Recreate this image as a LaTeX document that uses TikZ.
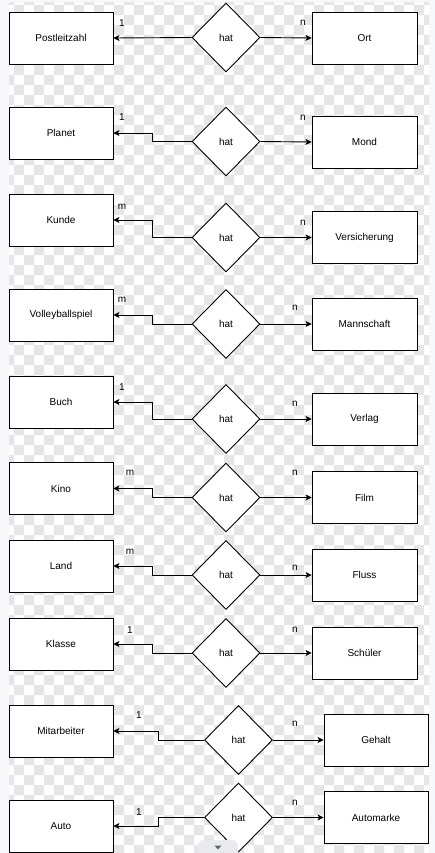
\documentclass[tikz,border=0pt]{standalone}
\usepackage{fontspec}
\setmainfont{Liberation Sans}
\usetikzlibrary{arrows.meta,shapes.geometric}
\definecolor{checkgray}{HTML}{E6E6E6}
\definecolor{strip}{HTML}{F6F8FB}
\definecolor{tabgray}{HTML}{E8EAEE}
\tikzset{
  entity/.style={draw=black, line width=0.9pt, fill=white, minimum width=104pt, minimum height=52pt, inner sep=0pt, font=\fontsize{10}{12}\selectfont},
  relation/.style={diamond, draw=black, line width=0.9pt, fill=white, minimum width=68pt, minimum height=69pt, inner sep=0pt, font=\fontsize{10}{12}\selectfont},
  card/.style={inner sep=0pt, font=\fontsize{10}{12}\selectfont},
  arr/.style={line width=0.9pt, -{Stealth[length=6pt,width=6pt,inset=1.5pt]}},
}
\begin{document}
\begin{tikzpicture}[x=1pt,y=-1pt]
\useasboundingbox (0,0) rectangle (435,853);
% background
\fill[strip] (0,0) rectangle (435,853);
\fill[white] (9,3) rectangle (429,853);
\begin{scope}
\clip (9,3) rectangle (429,853);
\fill[checkgray]
  \foreach \a in {0,...,21}{ \foreach \b in {0,...,42}{
    (14+20*\a,5+20*\b) rectangle ++(10,10)
    (4+20*\a,-5+20*\b) rectangle ++(10,10)
  }};
\end{scope}

% row 1
\node[entity] (L1) at (61,38) {Postleitzahl};
\node[relation] (D1) at (226,37.5) {hat};
\node[entity, minimum width=105pt] (R1) at (364.5,38) {Ort};
\draw[arr] (D1.west) -- (L1.east);
\draw[arr] (D1.east) -- (R1.west);
\node[card] (c1a) at (122,23) {1};
\node[card] (c1b) at (303,23) {n};

% row 2
\node[entity] (L2) at (61,133) {Planet};
\node[relation] (D2) at (226,141.5) {hat};
\node[entity, minimum width=105pt] (R2) at (364.5,142) {Mond};
\draw[arr] (D2.west) -- ++(-39,0) |- (L2.east);
\draw[arr] (D2.east) -- (R2.west);
\node[card] (c2a) at (122,117) {1};
\node[card] (c2b) at (303,118) {n};

% row 3
\node[entity] (L3) at (61,220) {Kunde};
\node[relation] (D3) at (226,237.5) {hat};
\node[entity, minimum width=105pt] (R3) at (364.5,237.5) {Versicherung};
\draw[arr] (D3.west) -- ++(-39,0) |- (L3.east);
\draw[arr] (D3.east) -- (R3.west);
\node[card] (c3a) at (122,207) {m};
\node[card] (c3b) at (303,223) {n};

% row 4
\node[entity] (L4) at (61,315) {Volleyballspiel};
\node[relation] (D4) at (226,324) {hat};
\node[entity, minimum width=105pt] (R4) at (364.5,324) {Mannschaft};
\draw[arr] (D4.west) -- ++(-39,0) |- (L4.east);
\draw[arr] (D4.east) -- (R4.west);
\node[card] (c4a) at (122,300) {m};
\node[card] (c4b) at (295,308) {n};

% row 5
\node[entity] (L5) at (61,402) {Buch};
\node[relation] (D5) at (226,419) {hat};
\node[entity, minimum width=105pt] (R5) at (364.5,419) {Verlag};
\draw[arr] (D5.west) -- ++(-39,0) |- (L5.east);
\draw[arr] (D5.east) -- (R5.west);
\node[card] (c5a) at (122,387) {1};
\node[card] (c5b) at (295,404) {n};

% row 6
\node[entity] (L6) at (61,488.5) {Kino};
\node[relation] (D6) at (226,497.5) {hat};
\node[entity, minimum width=105pt] (R6) at (364.5,497.5) {Film};
\draw[arr] (D6.west) -- ++(-39,0) |- (L6.east);
\draw[arr] (D6.east) -- (R6.west);
\node[card] (c6a) at (130,473) {m};
\node[card] (c6b) at (295,473) {n};

% row 7
\node[entity] (L7) at (61,566) {Land};
\node[relation] (D7) at (226,575) {hat};
\node[entity, minimum width=105pt] (R7) at (364.5,575) {Fluss};
\draw[arr] (D7.west) -- ++(-39,0) |- (L7.east);
\draw[arr] (D7.east) -- (R7.west);
\node[card] (c7a) at (130,552) {m};
\node[card] (c7b) at (295,568) {n};

% row 8
\node[entity] (L8) at (61,644) {Klasse};
\node[relation] (D8) at (226,653) {hat};
\node[entity, minimum width=105pt] (R8) at (364.5,653) {Schüler};
\draw[arr] (D8.west) -- ++(-39,0) |- (L8.east);
\draw[arr] (D8.east) -- (R8.west);
\node[card] (c8a) at (130,630) {1};
\node[card] (c8b) at (295,630) {n};

% row 9
\node[entity] (L9) at (61,731) {Mitarbeiter};
\node[relation] (D9) at (238.5,740) {hat};
\node[entity] (R9) at (376,740) {Gehalt};
\draw[arr] (D9.west) -- ++(-46,0) |- (L9.east);
\draw[arr] (D9.east) -- (R9.west);
\node[card] (c9a) at (139,715) {1};
\node[card] (c9b) at (295,724) {n};

% row 10
\node[entity] (L10) at (61,826) {Auto};
\node[relation] (D10) at (238.5,817.5) {hat};
\node[entity] (R10) at (376,817.5) {Automarke};
\draw[arr] (D10.west) -- ++(-46,0) |- (L10.east);
\draw[arr] (D10.east) -- (R10.west);
\node[card] (c10a) at (139,812) {1};
\node[card] (c10b) at (295,803) {n};

% scroll tab
\fill[tabgray, rounded corners=6pt] (198,840) rectangle (238,862);
\fill[black!60] (214.5,845.5) -- (221.5,845.5) -- (218,849.5) -- cycle;
\end{tikzpicture}
\end{document}
